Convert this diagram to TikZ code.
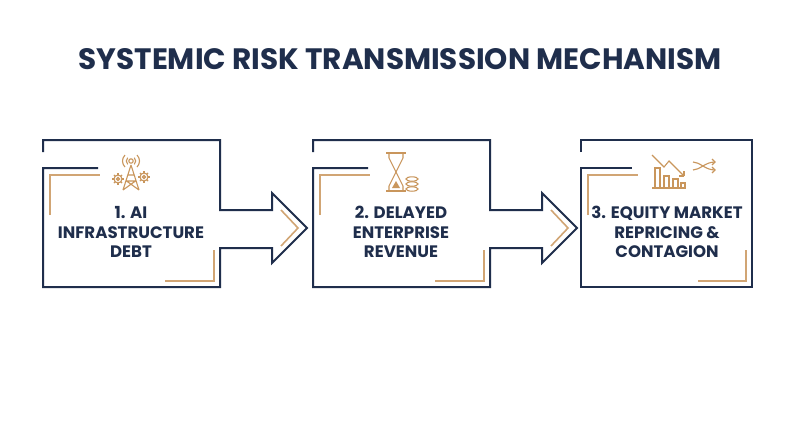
\documentclass[tikz,border=0pt]{standalone}
\usepackage{fontspec}
\setmainfont{Poppins}
\usetikzlibrary{calc}
\definecolor{navy}{HTML}{1F2E4C}
\definecolor{gold}{HTML}{C9965C}
\begin{document}
\begin{tikzpicture}[x=1pt,y=-1pt,
  frame/.style={draw=navy,line width=2pt,line join=miter},
  accent/.style={draw=gold,line width=1.6pt,opacity=0.85},
  lbl/.style={text=navy,font=\fontsize{16.6}{19.5}\selectfont\bfseries,align=center},
  icon/.style={draw=gold,line width=1.1pt}]
\useasboundingbox (0,0) rectangle (800,447);
\fill[white] (0,0) rectangle (800,447);
\node[text=navy,font=\fontsize{29.5}{34}\selectfont\bfseries] (title) at (400,59) {SYSTEMIC RISK TRANSMISSION MECHANISM};
% boxes with arrows
\foreach \dx/\n in {0/1,270/2}{
  \begin{scope}[xshift=\dx]
  \draw[frame] (43,152) -- (43,140) -- (220,140) -- (220,210) -- (272,210) -- (272,193) -- (307,228) -- (272,263) -- (272,248) -- (220,248) -- (220,287) -- (43,287) -- (43,168) -- (98,168);
  \draw[accent] (50,215) -- (50,175) -- (100,175);
  \draw[accent] (165,281) -- (214,281) -- (214,250);
  \draw[accent] (281,210) -- (298,228) -- (281,246);
  \end{scope}}
\begin{scope}[xshift=538]
  \draw[frame] (43,152) -- (43,140) -- (214,140) -- (214,287) -- (43,287) -- (43,168) -- (94,168);
  \draw[accent] (50,215) -- (50,175) -- (100,175);
  \draw[accent] (160,281) -- (208,281) -- (208,250);
\end{scope}
\node[lbl] (b1) at (131,232) {1. AI\\INFRASTRUCTURE\\DEBT};
\node[lbl] (b2) at (401,232) {2. DELAYED\\ENTERPRISE\\REVENUE};
\node[lbl] (b3) at (667,232) {3. EQUITY MARKET\\REPRICING \&\\CONTAGION};
% icon 1: tower with gears
\begin{scope}[icon]
  \draw (131,165) -- (123,190) (131,165) -- (139,190) (126.5,181) -- (135.5,181) (128,175) -- (134,175) (126.5,181) -- (139,190) (135.5,181) -- (123,190);
  \draw (131,161) circle (2.2);
  \draw ($(131,161)+(-3.3,-3.3)$) arc (225:135:4.7);
  \draw ($(131,161)+(3.3,-3.3)$) arc (-45:45:4.7);
  \draw ($(131,161)+(-6,-6)$) arc (225:135:8.5);
  \draw ($(131,161)+(6,-6)$) arc (-45:45:8.5);
  \draw (118,179) circle (4) (118,179) circle (1.5);
  \draw (144,177) circle (4) (144,177) circle (1.5);
  \foreach \a in {0,45,...,315}{\draw (118,179)++(\a:4) -- ++(\a:1.8); \draw (144,177)++(\a:4) -- ++(\a:1.8);}
\end{scope}
% icon 2: hourglass and coins
\begin{scope}[icon]
  \draw (386,153) -- (406,153) (386,191) -- (406,191);
  \draw (389,153) -- (389,158) -- (396,172) -- (389,186) -- (389,191);
  \draw (403,153) -- (403,158) -- (396,172) -- (403,186) -- (403,191);
  \fill[gold] (392,188) -- (396,181) -- (400,188) -- cycle;
  \foreach \y in {189,184,179}{\draw (412,\y) ellipse (6 and 2.2);}
\end{scope}
% icon 3: chart and shuffle
\begin{scope}[icon]
  \draw (652,188) -- (686,188);
  \draw (655,188) -- (655,168) -- (660,168) -- (660,188);
  \draw (664,188) -- (664,176) -- (669,176) -- (669,188);
  \draw (673,188) -- (673,179) -- (678,179) -- (678,188);
  \draw (681,188) -- (681,183) -- (685,183) -- (685,188);
  \draw (652,155) -- (664,167) -- (669,161) -- (684,176);
  \draw (684,176) -- ++(-5,0) (684,176) -- ++(0,-5);
  \draw (693,170) .. controls (700,170) and (705,162) .. (715,162);
  \draw (693,162) .. controls (700,162) and (705,170) .. (715,170);
  \draw (712,159) -- (715,162) -- (712,165) (712,167) -- (715,170) -- (712,173);
\end{scope}
\end{tikzpicture}
\end{document}
